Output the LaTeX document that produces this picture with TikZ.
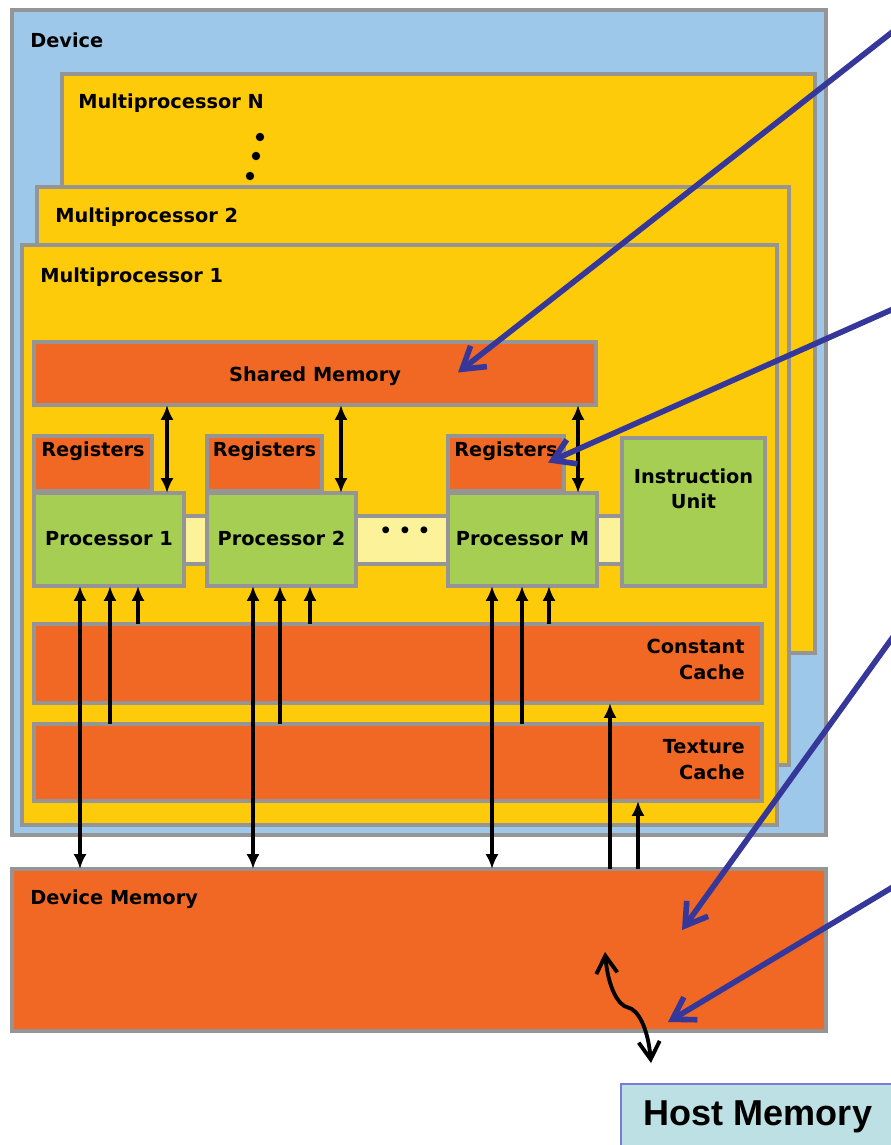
\documentclass[tikz,border=0pt]{standalone}
\usepackage{fontspec}
\setmainfont{DejaVu Sans}
\newfontfamily\hostfont{Liberation Sans}
\usetikzlibrary{arrows.meta, positioning, calc}
\definecolor{devblue}{HTML}{9DC8E9}
\definecolor{mpyellow}{HTML}{FDCB0A}
\definecolor{memorange}{HTML}{F06823}
\definecolor{procgreen}{HTML}{A5CE52}
\definecolor{baryellow}{HTML}{FBF29A}
\definecolor{edgegray}{HTML}{959595}
\definecolor{hostcyan}{HTML}{BCE0E3}
\definecolor{hostedge}{HTML}{7B7BD6}
\definecolor{callout}{HTML}{35379A}
\tikzset{
  box/.style = {rectangle, draw=edgegray, line width=1.8pt, anchor=north west, inner sep=0pt, outer sep=0pt},
  sz/.style 2 args = {minimum width=#1*0.02cm, minimum height=#2*0.02cm},
  lbl/.style = {inner sep=0pt, font=\fontsize{11}{14.7}\selectfont\bfseries},
  arr/.style = {-{Latex[length=8.5pt,width=7.5pt]}, line width=2.1pt},
  darr/.style = {{Latex[length=8.5pt,width=7.5pt]}-{Latex[length=8.5pt,width=7.5pt]}, line width=2.1pt},
  hint/.style = {-{Straight Barb[length=12pt,width=15pt]}, draw=callout, line width=3.2pt, line cap=round, line join=round}
}

\begin{document}
\begin{tikzpicture}[x=0.02cm, y=-0.02cm]
\useasboundingbox (0,0) rectangle (891,1145);

% Device and multiprocessors
\node[box, fill=devblue, line width=2.2pt, sz={814}{825}] (dev) at (12,10) {};
\node[lbl, anchor=base west] (devlbl) at ($(dev.north west)+(18,38)$) {Device};
\node[box, fill=mpyellow, sz={753}{579}] (mpN) at (62,74) {};
\node[lbl, anchor=base west] (mpNlbl) at ($(mpN.north west)+(16,35)$) {Multiprocessor N};
\fill (260,137) circle (2.4pt) (256,156) circle (2.4pt) (250,176) circle (2.4pt);
\node[box, fill=mpyellow, sz={752}{578}] (mp2) at (37,187) {};
\node[lbl, anchor=base west] (mp2lbl) at ($(mp2.north west)+(18,36)$) {Multiprocessor 2};
\node[box, fill=mpyellow, sz={755}{580}] (mp1) at (22,245) {};
\node[lbl, anchor=base west] (mp1lbl) at ($(mp1.north west)+(18,38)$) {Multiprocessor 1};

% Shared memory
\node[box, fill=memorange, sz={562}{63}] (shm) at (34,342) {};
\node[lbl, anchor=base] (shmlbl) at ($(shm.south)+(0,-24)$) {Shared Memory};

% Registers and processors
\node[box, fill=baryellow, sz={438}{48}] (bar) at (184,516) {};
\node[lbl] (dots) at ($(bar.center)+(2,-8)$) {• • •};
\node[box, fill=memorange, sz={118}{55}] (reg1) at (34,436) {};
\node[box, fill=memorange, sz={115}{55}] (reg2) at (207,436) {};
\node[box, fill=memorange, sz={116}{55}] (reg3) at (448,436) {};
\node[lbl, anchor=base] (reg1lbl) at ($(reg1.north)+(0,20)$) {Registers};
\node[lbl, anchor=base] (reg2lbl) at ($(reg2.north)+(0,20)$) {Registers};
\node[lbl, anchor=base] (reg3lbl) at ($(reg3.north)+(0,20)$) {Registers};
\node[box, fill=procgreen, sz={150}{93}] (proc1) at (34,493) {};
\node[box, fill=procgreen, sz={149}{93}] (proc2) at (207,493) {};
\node[box, fill=procgreen, sz={149}{93}] (proc3) at (448,493) {};
\node[lbl, anchor=base] (proc1lbl) at ($(proc1.center)+(0,6)$) {Processor 1};
\node[lbl, anchor=base] (proc2lbl) at ($(proc2.center)+(0,6)$) {Processor 2};
\node[lbl, anchor=base] (proc3lbl) at ($(proc3.center)+(0,6)$) {Processor M};
\node[box, fill=procgreen, sz={143}{148}] (iu) at (622,438) {};
\node[lbl, align=center, anchor=north] (iulbl) at ($(iu.north)+(0,30)$) {Instruction\\Unit};

% Caches
\node[box, fill=memorange, sz={728}{79}] (cc) at (34,624) {};
\node[lbl, align=right, anchor=north east] (cclbl) at ($(cc.north east)+(-17,15)$) {Constant\\Cache};
\node[box, fill=memorange, sz={728}{77}] (tc) at (34,724) {};
\node[lbl, align=right, anchor=north east] (tclbl) at ($(tc.north east)+(-17,15)$) {Texture\\Cache};

% Device memory and host
\node[box, fill=memorange, line width=2.2pt, sz={814}{162}] (dmem) at (12,869) {};
\node[lbl, anchor=base west] (dmemlbl) at ($(dmem.north west)+(18,35)$) {Device Memory};
\node[box, draw=hostedge, line width=1pt, fill=hostcyan, sz={274}{66},
  font=\hostfont\bfseries\fontsize{20.5}{24}\selectfont] (host) at (621,1084) {Host Memory};

% ----- ARROWS -----
% Shared memory <-> processors
\draw[darr] ($(proc1.north east)+(-17,0)$) -- ($(proc1.north east |- shm.south)+(-17,0)$);
\draw[darr] ($(proc2.north east)+(-15,0)$) -- ($(proc2.north east |- shm.south)+(-15,0)$);
\draw[darr] ($(proc3.north east)+(-19,0)$) -- ($(proc3.north east |- shm.south)+(-19,0)$);
% Processor 1
\draw[darr] ($(proc1.south west)+(46,0)$) -- ($(proc1.south west |- dmem.north)+(46,0)$);
\draw[arr] ($(proc1.south west |- tc.north)+(76,0)$) -- ($(proc1.south west)+(76,0)$);
\draw[arr] ($(proc1.south west |- cc.north)+(104,0)$) -- ($(proc1.south west)+(104,0)$);
% Processor 2
\draw[darr] ($(proc2.south west)+(46,0)$) -- ($(proc2.south west |- dmem.north)+(46,0)$);
\draw[arr] ($(proc2.south west |- tc.north)+(73,0)$) -- ($(proc2.south west)+(73,0)$);
\draw[arr] ($(proc2.south west |- cc.north)+(103,0)$) -- ($(proc2.south west)+(103,0)$);
% Processor M
\draw[darr] ($(proc3.south west)+(44,0)$) -- ($(proc3.south west |- dmem.north)+(44,0)$);
\draw[arr] ($(proc3.south west |- tc.north)+(74,0)$) -- ($(proc3.south west)+(74,0)$);
\draw[arr] ($(proc3.south west |- cc.north)+(101,0)$) -- ($(proc3.south west)+(101,0)$);
% Device memory -> caches
\draw[arr] ($(dmem.north west)+(598,0)$) -- ($(dmem.north west |- cc.south)+(598,0)$);
\draw[arr] ($(dmem.north west)+(626,0)$) -- ($(dmem.north west |- tc.south)+(626,0)$);
% Device memory <-> host
\coordinate (dmemport) at ($(dmem.north west)+(593,83)$);
\coordinate (hostport) at ($(host.north west)+(30,-21)$);
\draw[{Straight Barb[length=10pt,width=12pt]}-{Straight Barb[length=10pt,width=12pt]}, line width=2.2pt, line cap=round, line join=round]
  (dmemport) .. controls +(3,35) and +(-10,-2) .. ($(dmemport)!0.5!(hostport)$)
  .. controls +(10,2) and +(-3,-35) .. (hostport);

% Callouts
\coordinate (c1) at (900,26);
\coordinate (c2) at (900,306);
\coordinate (c3) at (898,630);
\coordinate (c4) at (898,884);
\draw[hint] (c1) -- ($(shm.east)+(-138,-1)$);
\draw[hint] (c2) -- ($(reg3.east)+(-16,-1)$);
\draw[hint] (c3) -- ($(dmem.north east)+(-144,61)$);
\draw[hint] (c4) -- ($(dmem.south east)+(-158,-9)$);

\end{tikzpicture}
\end{document}
